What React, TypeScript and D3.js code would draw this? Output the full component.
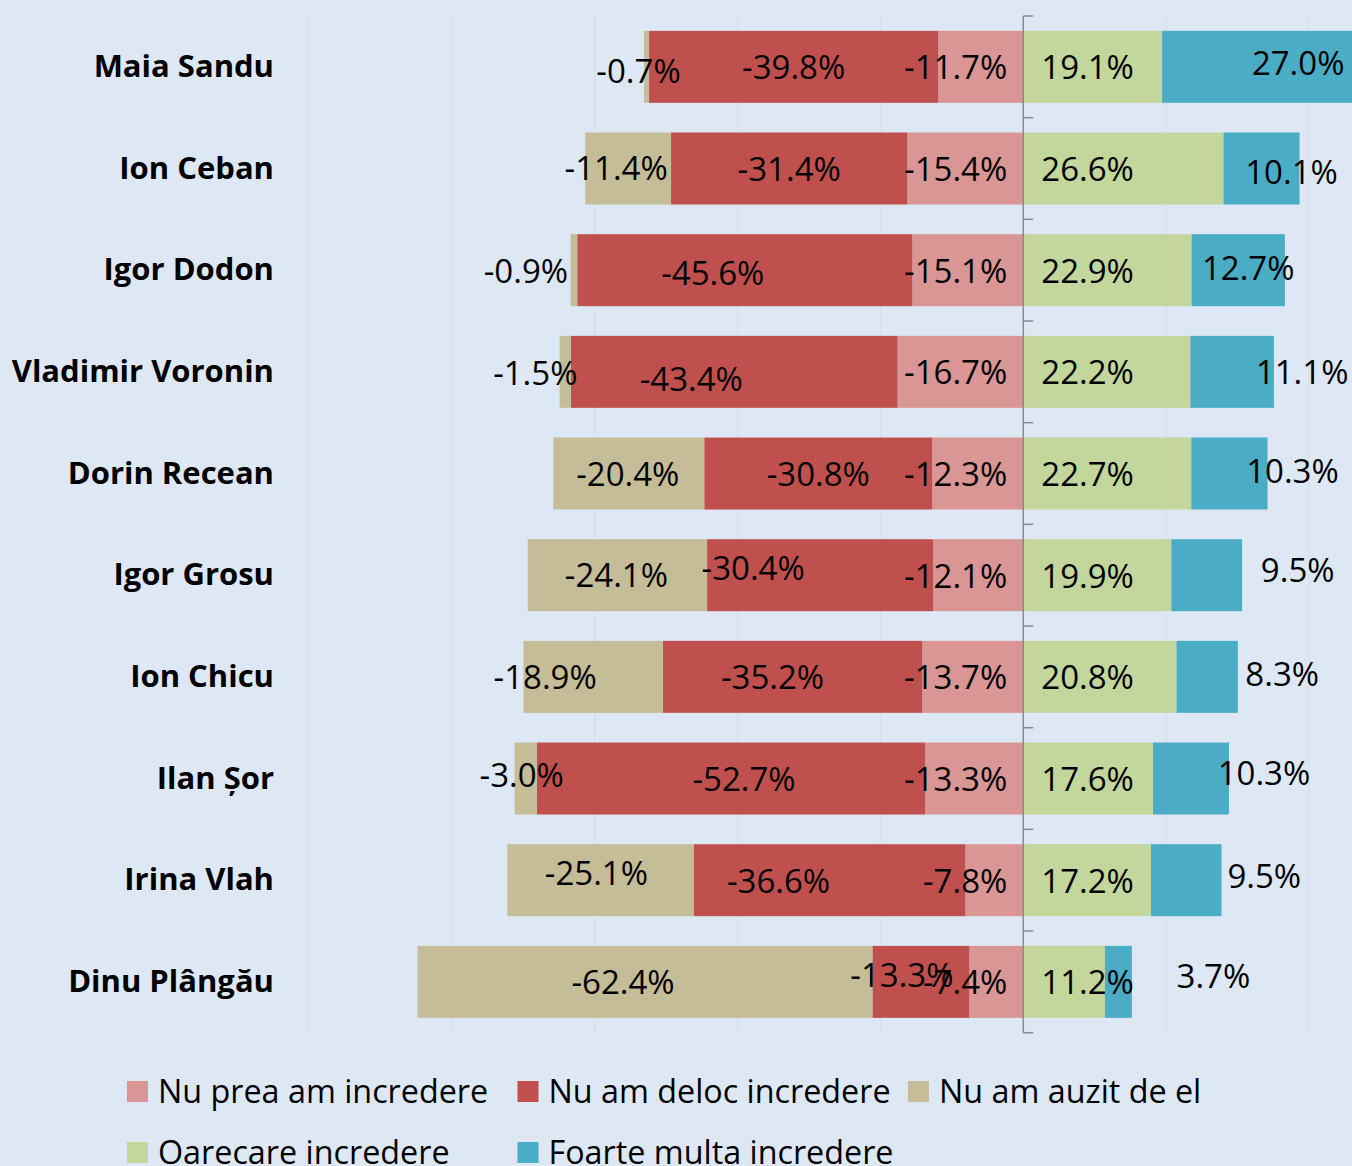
import * as d3 from 'd3';

// Survey: trust in politicians (percent of respondents)
const candidates = [
  'Maia Sandu',
  'Ion Ceban',
  'Igor Dodon',
  'Vladimir Voronin',
  'Dorin Recean',
  'Igor Grosu',
  'Ion Chicu',
  'Ilan Șor',
  'Irina Vlah',
  'Dinu Plângău',
];

// negative side (drawn left of zero), listed axis-outward
const nuPrea = [11.7, 15.4, 15.1, 16.7, 12.3, 12.1, 13.7, 13.3, 7.8, 7.4];
const nuDeloc = [39.8, 31.4, 45.6, 43.4, 30.8, 30.4, 35.2, 52.7, 36.6, 13.3];
const nuAuzit = [0.7, 11.4, 0.9, 1.5, 20.4, 24.1, 18.9, 3.0, 25.1, 62.4];
// positive side
const oarecare = [19.1, 26.6, 22.9, 22.2, 22.7, 19.9, 20.8, 17.6, 17.2, 11.2];
const foarte = [27.0, 10.1, 12.7, 11.1, 10.3, 9.5, 8.3, 10.3, 9.5, 3.7];

const gridTicks = [-100, -80, -60, -40, -20, 20, 40];

// hand-placed label nudges from the original chart, [dx, dy] in px
const auzitNudge = [[-8, 4], [-12, -1], [-48, 0], [-30, 1], [-1, 0], [-1, -1], [-48, 0], [-4, -4], [-4, -8], [-22, 0]];
const delocNudge = [[0, 0], [0, 0], [-32, 2], [-43, 7], [0, 0], [-67, -8], [-20, 0], [13, 0], [-51, 0], [-19, -7]];
const foarteNudge = [[38, -4], [30, 3], [10, -3], [70, 0], [63, -3], [91, -6], [75, -3], [73, -6], [78, -5], [95, -6]];

const series = [
  { key: 'prea', label: 'Nu prea am incredere', color: '#da9694', values: nuPrea, side: -1 },
  { key: 'deloc', label: 'Nu am deloc incredere', color: '#c0504d', values: nuDeloc, side: -1 },
  { key: 'auzit', label: 'Nu am auzit de el', color: '#c4bd97', values: nuAuzit, side: -1 },
  { key: 'oare', label: 'Oarecare incredere', color: '#c3d69b', values: oarecare, side: 1 },
  { key: 'foarte', label: 'Foarte multa incredere', color: '#4bacc6', values: foarte, side: 1 },
];

const W = 1352;
const H = 1166;
const FONT = "'Open Sans', 'Noto Sans', sans-serif";
const LABEL_SIZE = 33;

export default function App() {
  const x = d3.scaleLinear().domain([-100, 40]).range([309, 1309]);
  const y = d3
    .scaleBand<string>()
    .domain(candidates)
    .range([16, 1032.7])
    .paddingInner(0.292)
    .paddingOuter(0.146);
  const x0 = x(0);
  const bw = y.bandwidth();

  // each row is normalised to 100% of the answers shown
  const totals = candidates.map((_, i) => d3.sum(series, (s) => s.values[i]));

  type Seg = { key: string; color: string; i: number; v: number; a: number; b: number };
  const segs: Seg[] = [];
  candidates.forEach((_, i) => {
    let neg = 0;
    let pos = 0;
    series.forEach((s) => {
      const v = (s.values[i] / totals[i]) * 100;
      if (s.side < 0) {
        segs.push({ key: s.key, color: s.color, i, v: s.values[i], a: -neg - v, b: -neg });
        neg += v;
      } else {
        segs.push({ key: s.key, color: s.color, i, v: s.values[i], a: pos, b: pos + v });
        pos += v;
      }
    });
  });

  const labelPos = (d: Seg) => {
    const cy = (y(candidates[d.i]) ?? 0) + bw / 2 + 0.5;
    const mid = (x(d.a) + x(d.b)) / 2;
    if (d.key === 'prea') return { lx: x0 - 16, ly: cy, anchor: 'end' };
    if (d.key === 'oare') return { lx: x0 + 18, ly: cy, anchor: 'start' };
    const n = d.key === 'auzit' ? auzitNudge[d.i] : d.key === 'deloc' ? delocNudge[d.i] : foarteNudge[d.i];
    return { lx: mid + n[0], ly: cy + n[1], anchor: 'middle' };
  };

  const step = y.step();
  const axisTop = 16;
  const boundaries = d3.range(candidates.length + 1).map((k) => axisTop + k * step);

  return (
    <div style={{ position: 'absolute', left: 0, top: 0 }}>
      <svg width={W} height={H} style={{ display: 'block' }} fontFamily={FONT}>
        <rect width={W} height={H} fill="#dde8f4" />

        {/* vertical gridlines */}
        {gridTicks.map((t) => (
          <line key={t} x1={x(t)} x2={x(t)} y1={axisTop} y2={boundaries[boundaries.length - 1]} stroke="#d1ddea" strokeWidth={1} />
        ))}

        {/* bars */}
        {segs.map((d) => (
          <rect
            key={`${d.key}-${d.i}`}
            x={x(d.a)}
            y={y(candidates[d.i])}
            width={Math.max(0, x(d.b) - x(d.a))}
            height={bw}
            fill={d.color}
          />
        ))}

        {/* zero axis with ticks between categories */}
        <line x1={x0} x2={x0} y1={axisTop} y2={boundaries[boundaries.length - 1]} stroke="#8a8a8a" strokeWidth={1.5} />
        {boundaries.map((b, k) => (
          <line key={k} x1={x0} x2={x0 + 10} y1={b} y2={b} stroke="#8a8a8a" strokeWidth={1.5} />
        ))}

        {/* category labels */}
        {candidates.map((c) => (
          <text
            key={c}
            x={274}
            y={(y(c) ?? 0) + bw / 2 - 1}
            dy="0.36em"
            textAnchor="end"
            fontSize={31}
            fontWeight={700}
            fill="#000"
          >
            {c}
          </text>
        ))}

        {/* data labels */}
        {segs.map((d) => {
          const p = labelPos(d);
          const sign = d.key === 'prea' || d.key === 'deloc' || d.key === 'auzit' ? '-' : '';
          return (
            <text
              key={`l-${d.key}-${d.i}`}
              x={p.lx}
              y={p.ly}
              dy="0.36em"
              textAnchor={p.anchor as any}
              fontSize={LABEL_SIZE}
              fill="#000"
            >
              {`${sign}${d.v.toFixed(1)}%`}
            </text>
          );
        })}

        {/* legend */}
        {series.map((s, k) => {
          const col = k % 3;
          const row = Math.floor(k / 3);
          const lx = 127 + col * 390.5;
          const ly = 1081 + row * 61;
          return (
            <g key={s.key} transform={`translate(${lx},${ly})`}>
              <rect width={21} height={21} fill={s.color} />
              <text x={31} y={10.5} dy="0.36em" fontSize={32.3} fill="#000">
                {s.label}
              </text>
            </g>
          );
        })}
      </svg>
    </div>
  );
}
